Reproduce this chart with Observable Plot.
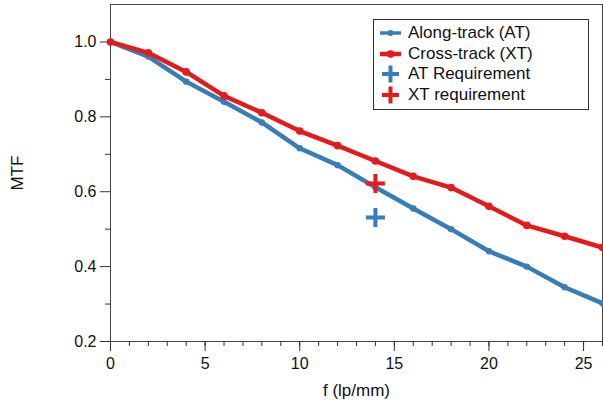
<!DOCTYPE html>
<html>
<head>
<meta charset="utf-8">
<script src="https://cdn.jsdelivr.net/npm/d3@7"></script>
<script src="https://cdn.jsdelivr.net/npm/@observablehq/plot@0.6"></script>
<style>
  html, body { margin: 0; padding: 0; background: #fff; }
  #wrap { position: relative; width: 603px; height: 403px; font-family: "Liberation Sans", Arial, Helvetica, sans-serif; }
  #legend { position: absolute; left: 373px; top: 19px; width: 214px; height: 86px; border: 1px solid #333; background: #fff; padding-top: 3px; box-sizing: content-box; }
  .row { height: 20.5px; display: flex; align-items: center; font-size: 17px; color: #111; white-space: nowrap; }
  .row svg { margin-left: 6px; margin-right: 7px; }
  svg text { fill: #111; }
</style>
</head>
<body>
<div id="wrap"></div>
<script>
// ---- data ----
const freq = [0, 2, 4, 6, 8, 10, 12, 14, 16, 18, 20, 22, 24, 26];
const alongTrack = [1.0, 0.961, 0.894, 0.840, 0.785, 0.716, 0.671, 0.612, 0.555, 0.500, 0.441, 0.400, 0.345, 0.302];
const crossTrack = [1.0, 0.971, 0.920, 0.856, 0.811, 0.762, 0.723, 0.682, 0.641, 0.611, 0.561, 0.510, 0.481, 0.451];
const reqNames = ["AT Requirement", "XT requirement"];
const reqFreq = [14, 14];
const reqValues = [0.531, 0.622];
const seriesNames = ["Along-track (AT)", "Cross-track (XT)"];
const xMajorTicks = [0, 5, 10, 15, 20, 25];
const xMinorTicks = [0,1,2,3,4,5,6,7,8,9,10,11,12,13,14,15,16,17,18,19,20,21,22,23,24,25,26];
const yMajorTicks = [0.2, 0.4, 0.6, 0.8, 1.0];
const yMinorTicks = [0.3, 0.5, 0.7, 0.9];

const blue = "#377eb8", red = "#e41a1c";

const atData = freq.map((f, i) => ({f, v: alongTrack[i]}));
const xtData = freq.map((f, i) => ({f, v: crossTrack[i]}));
const reqData = reqNames.map((n, i) => ({name: n, f: reqFreq[i], v: reqValues[i], c: i === 0 ? blue : red}));

const plusSymbol = {
  draw(ctx, size) {
    const r = Math.sqrt(size / Math.PI);
    ctx.moveTo(-r, 0); ctx.lineTo(r, 0);
    ctx.moveTo(0, -r); ctx.lineTo(0, r);
  }
};

const chart = Plot.plot({
  width: 603,
  height: 403,
  marginLeft: 110,
  marginRight: 1,
  marginTop: 4,
  marginBottom: 62,
  style: {fontSize: "16px", fontFamily: "'Liberation Sans', Arial, Helvetica, sans-serif", color: "#111", background: "#fff"},
  x: {domain: [0, 26]},
  y: {domain: [0.2, 1.1]},
  marks: [
    Plot.frame({stroke: "#444", strokeWidth: 1}),
    Plot.axisX({ticks: xMinorTicks, tickSize: 5, text: null, label: null, stroke: "#333"}),
    Plot.axisX({ticks: xMajorTicks, tickSize: 10, tickPadding: 6, tickFormat: d => String(d), label: null, stroke: "#333"}),
    Plot.axisX({ticks: [], label: "f (lp/mm)", labelAnchor: "center", labelOffset: 54, labelArrow: "none", fontSize: 17}),
    Plot.axisY({ticks: yMinorTicks, tickSize: 5, text: null, label: null, stroke: "#333"}),
    Plot.axisY({ticks: yMajorTicks, tickSize: 10, tickPadding: 4, tickFormat: d => d.toFixed(1), label: null, stroke: "#333"}),
    Plot.axisY({ticks: [], label: "MTF", labelAnchor: "center", labelOffset: 100, labelArrow: "none", fontSize: 17}),
    Plot.line(atData, {x: "f", y: "v", stroke: blue, strokeWidth: 4.5}),
    Plot.dot(atData, {x: "f", y: "v", r: 3.2, fill: blue}),
    Plot.line(xtData, {x: "f", y: "v", stroke: red, strokeWidth: 4.5}),
    Plot.dot(xtData, {x: "f", y: "v", r: 3.8, fill: red}),
    Plot.dot(reqData, {x: "f", y: "v", symbol: plusSymbol, r: 9.5, stroke: "c", strokeWidth: 4, fill: "none"})
  ]
});

const wrap = document.getElementById("wrap");
wrap.appendChild(chart);

// legend
const legend = document.createElement("div");
legend.id = "legend";
const items = [
  {name: seriesNames[0], color: blue, kind: "line"},
  {name: seriesNames[1], color: red, kind: "line"},
  {name: reqNames[0], color: blue, kind: "plus"},
  {name: reqNames[1], color: red, kind: "plus"}
];
for (const it of items) {
  const row = document.createElement("div");
  row.className = "row";
  const sw = it.kind === "line"
    ? `<svg width="21" height="14"><line x1="0" y1="7" x2="21" y2="7" stroke="${it.color}" stroke-width="${it.color === red ? 4.5 : 3.5}"/><circle cx="10.5" cy="7" r="${it.color === red ? 3.8 : 3}" fill="${it.color}"/></svg>`
    : `<svg width="21" height="20"><line x1="2" y1="10" x2="19" y2="10" stroke="${it.color}" stroke-width="4"/><line x1="10.5" y1="1.5" x2="10.5" y2="18.5" stroke="${it.color}" stroke-width="4"/></svg>`;
  row.innerHTML = sw + `<span>${it.name}</span>`;
  legend.appendChild(row);
}
wrap.appendChild(legend);
</script>
</body>
</html>
